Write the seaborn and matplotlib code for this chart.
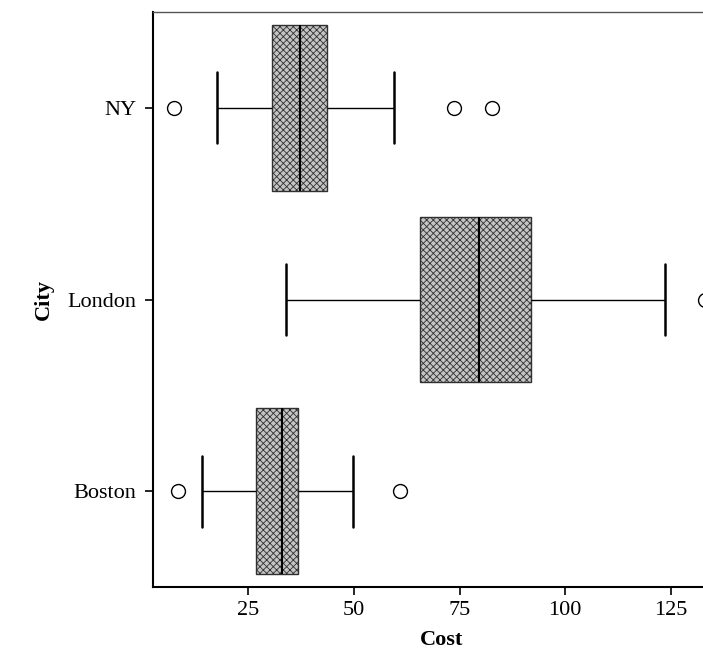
import matplotlib
matplotlib.use("Agg")
import matplotlib.pyplot as plt
import seaborn as sns
import pandas as pd

cities = ["NY", "London", "Boston"]
ny_cost = [7.5, 17.7, 26.0, 30.7, 33.0, 35.5, 37.3, 39.5, 41.5, 43.7, 59.5, 73.7, 82.7]
london_cost = [34.0, 52.0, 65.7, 72.0, 79.7, 86.0, 91.9, 123.6, 133.0]
boston_cost = [8.5, 14.0, 26.9, 30.0, 33.0, 35.0, 36.7, 49.9, 60.8]
xticks = [25, 50, 75, 100, 125]

df = pd.DataFrame({
    "City": ["NY"] * len(ny_cost) + ["London"] * len(london_cost) + ["Boston"] * len(boston_cost),
    "Cost": ny_cost + london_cost + boston_cost,
})

sns.set_theme(style="ticks")
plt.rcParams["font.family"] = ["Liberation Serif", "DejaVu Serif"]
plt.rcParams["hatch.linewidth"] = 0.6
plt.rcParams["text.color"] = "black"
plt.rcParams["axes.labelcolor"] = "black"

fig = plt.figure(figsize=(7.03, 6.53), dpi=100)
ax = fig.add_axes([153 / 703, 66 / 653, 578 / 703, 575 / 653])

sns.boxplot(
    data=df, x="Cost", y="City", order=cities, orient="h",
    width=0.865, color="#c4c4c4", saturation=1, linecolor="#303030", linewidth=1.0,
    fliersize=10,
    flierprops=dict(marker="o", markerfacecolor="none", markeredgecolor="black", markeredgewidth=1.0),
    medianprops=dict(color="black", linewidth=1.5),
    whiskerprops=dict(color="black", linewidth=1.0),
    capprops=dict(color="black", linewidth=1.8),
    capwidths=0.37,
    ax=ax,
)
for p in ax.patches:
    p.set_hatch("xxxxx")

ax.set_xlim(2.5, 139.2)
ax.set_ylim(2.5, -0.5)
ax.set_xticks(xticks)
ax.set_xticklabels([str(t) for t in xticks])
ax.tick_params(axis="both", labelsize=16, length=6, width=1.2, colors="black", direction="out")
ax.tick_params(axis="x", pad=4)
ax.tick_params(axis="y", pad=6)
ax.set_xlabel("Cost", fontsize=16, fontweight="bold", labelpad=7, color="black")
ax.set_ylabel("City", fontsize=16, fontweight="bold", labelpad=10, color="black")

for s in ["left", "bottom"]:
    ax.spines[s].set_color("black")
    ax.spines[s].set_linewidth(1.5)
ax.spines["top"].set_color("#555555")
ax.spines["top"].set_linewidth(1.0)
ax.spines["right"].set_visible(False)

fig.savefig("out.png", dpi=100)
